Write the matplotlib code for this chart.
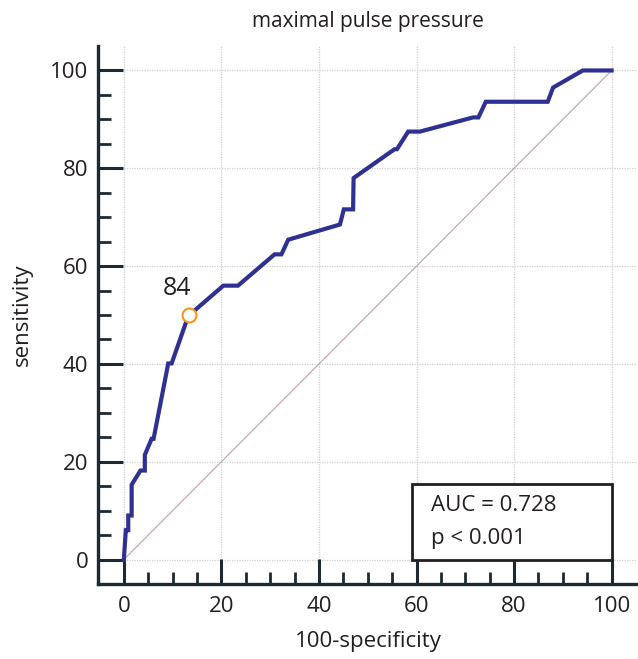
import matplotlib
matplotlib.use("Agg")
import matplotlib.pyplot as plt
from matplotlib.ticker import FixedLocator
from matplotlib.patches import Rectangle

plt.rcParams['font.family'] = ['Open Sans', 'DejaVu Sans']

title = "maximal pulse pressure"
xlabel = "100-specificity"
ylabel = "sensitivity"

# ROC curve points (100-specificity, sensitivity)
fpr = [0, 0.2, 0.4, 0.9, 0.9, 1.6, 1.6, 3.4, 4.3, 4.3, 5.7, 6.1, 9.1, 9.8, 13.2,
       20.4, 23.4, 30.9, 32.3, 33.7, 44.3, 45.1, 47.0, 47.1, 55.5, 56.0, 58.3,
       60.7, 71.6, 72.7, 74.2, 86.9, 88.0, 94.1, 100]
tpr = [0, 3.0, 6.0, 6.0, 9.0, 9.0, 15.3, 18.2, 18.2, 21.4, 24.7, 24.7, 40.1, 40.1, 49.8,
       56.0, 56.0, 62.4, 62.4, 65.4, 68.5, 71.6, 71.6, 78.0, 83.9, 83.9, 87.5,
       87.5, 90.4, 90.4, 93.6, 93.6, 96.5, 100, 100]

cut_x, cut_y = 13.3, 50.0
cut_label = "84"
auc_text = "AUC = 0.728"
p_text = "p < 0.001"
ticks = [0, 20, 40, 60, 80, 100]
minor_ticks = [v for v in range(5, 100, 5) if v % 20 != 0]

fig = plt.figure(figsize=(6.38, 6.59), dpi=100)
ax = fig.add_axes([98/638, 1-584/659, 538/638, 538/659])
ax.set_xlim(-5.3, 105)
ax.set_ylim(-5.0, 105)

spine_col = '#1e2a33'
text_col = '#231f20'
for s in ['top', 'right']:
    ax.spines[s].set_visible(False)
for s in ['left', 'bottom']:
    ax.spines[s].set_linewidth(2.4)
    ax.spines[s].set_color(spine_col)

ax.set_xticks(ticks)
ax.set_yticks(ticks)
ax.xaxis.set_minor_locator(FixedLocator(minor_ticks))
ax.yaxis.set_minor_locator(FixedLocator(minor_ticks))
ax.tick_params(which='major', direction='in', length=18, width=2.2, color=spine_col,
               labelsize=16, pad=7, labelcolor=text_col)
ax.tick_params(which='minor', direction='in', length=9, width=2.0, color=spine_col)
ax.tick_params(axis='x', which='both', pad=9)

# grid limited to data region
grid_kw = dict(color='#cfcfcf', linewidth=0.9, linestyle=(0, (1, 1)), zorder=0)
ax.vlines(ticks, 0, 105, **grid_kw)
ax.hlines(ticks, 0, 105, **grid_kw)

ax.plot([0, 100], [0, 100], color='#c2aab2', linewidth=0.9, zorder=1)
ax.plot(fpr, tpr, color='#2e3192', linewidth=3.0, solid_joinstyle='miter', zorder=3, clip_on=False)
ax.plot([cut_x], [cut_y], marker='o', markersize=10, markerfacecolor='white',
        markeredgecolor='#f7941d', markeredgewidth=1.5, zorder=4, linestyle='none')
ax.text(10.9, 55.4, cut_label, fontsize=18, ha='center', va='center', color=text_col)

ax.add_patch(Rectangle((59.0, 0), 41.0, 15.5, facecolor='white', edgecolor=text_col,
                       linewidth=2.0, zorder=5))
ax.text(63.0, 11.0, auc_text, fontsize=16, ha='left', va='center', color=text_col, zorder=6)
ax.text(63.0, 4.4, p_text, fontsize=16, ha='left', va='center', color=text_col, zorder=6)

fig.text(368/638, 1-22/659, title, fontsize=15, ha='center', va='center', color=text_col)
fig.text(368/638, 1-641/659, xlabel, fontsize=16, ha='center', va='center', color=text_col)
fig.text(22/638, 1-315/659, ylabel, fontsize=16, ha='center', va='center', rotation=90, color=text_col)

fig.savefig('out.png', dpi=100)
